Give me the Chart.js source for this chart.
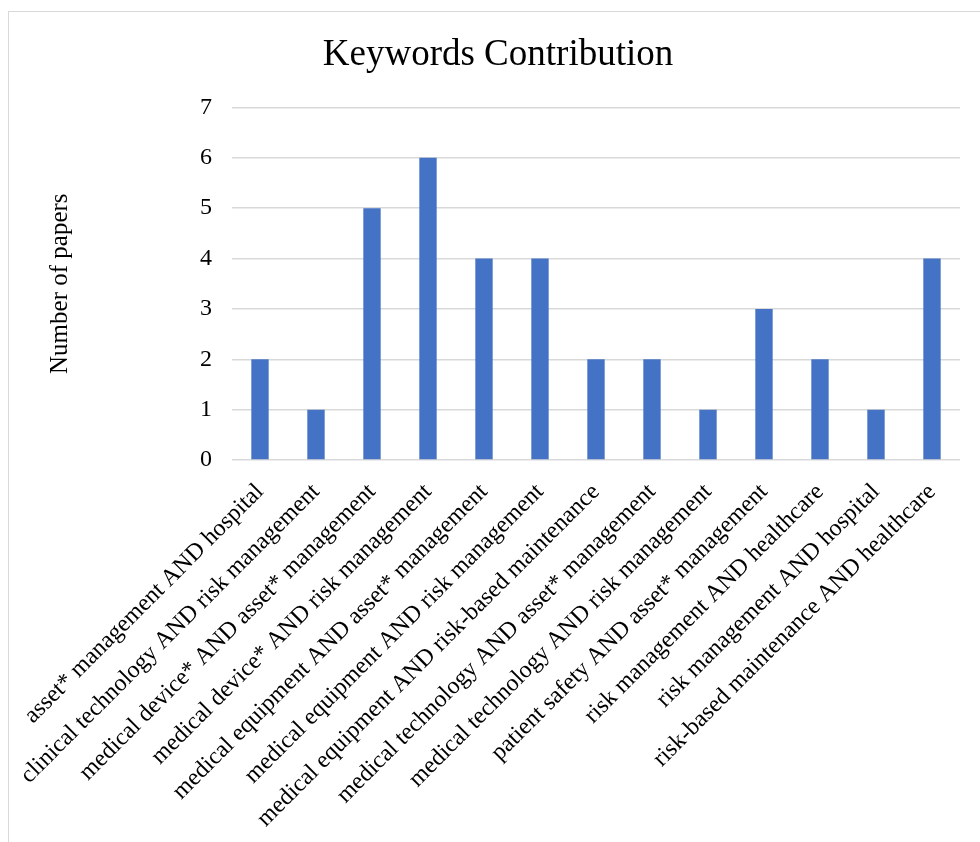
<!DOCTYPE html>
<html>
<head>
<meta charset="utf-8">
<script src="https://cdn.jsdelivr.net/npm/chart.js@4"></script>
<style>
  html, body { margin: 0; padding: 0; background: #fff; overflow: hidden; }
  #frame { position: absolute; left: 8px; top: 11px; width: 1000px; height: 900px; border: 1px solid #d9d9d9; }
  #wrap { position: absolute; left: 0; top: 0; width: 980px; height: 842px; }
</style>
</head>
<body>
<div id="frame"></div>
<div id="wrap"><canvas id="chart"></canvas></div>
<script>
const keywords = [
  'asset* management AND hospital',
  'clinical technology AND risk management',
  'medical device* AND asset* management',
  'medical device* AND risk management',
  'medical equipment AND asset* management',
  'medical equipment AND risk management',
  'medical equipment AND risk-based maintenance',
  'medical technology AND asset* management',
  'medical technology AND risk management',
  'patient safety AND asset* management',
  'risk management AND healthcare',
  'risk management AND hospital',
  'risk-based maintenance AND healthcare'
];
const papers = [2, 1, 5, 6, 4, 4, 2, 2, 1, 3, 2, 1, 4];
const yTicks = [0, 1, 2, 3, 4, 5, 6, 7];

const serif = '"Liberation Serif", "Times New Roman", serif';

new Chart(document.getElementById('chart'), {
  type: 'bar',
  data: {
    labels: keywords,
    datasets: [{
      label: 'Number of papers',
      data: papers,
      backgroundColor: '#4472C4',
      barPercentage: 0.31,
      categoryPercentage: 1
    }]
  },
  options: {
    responsive: true,
    maintainAspectRatio: false,
    animation: false,
    // left padding shifts the title centre to match the original
    layout: { padding: { left: 36, right: 20, top: 0, bottom: 0 } },
    plugins: {
      legend: { display: false },
      tooltip: { enabled: false },
      title: {
        display: true,
        text: 'Keywords Contribution',
        color: '#000',
        font: { family: serif, size: 37, weight: 'normal' },
        padding: { top: 33, bottom: 30 }
      }
    },
    scales: {
      x: {
        grid: { display: false },
        border: { display: false },
        ticks: {
          color: '#000',
          font: { family: serif, size: 24 },
          minRotation: 45,
          maxRotation: 45,
          autoSkip: false,
          padding: 10
        },
        afterFit(axis) { axis.height = 382; }
      },
      y: {
        min: 0,
        max: 7,
        afterBuildTicks(axis) { axis.ticks = yTicks.map(v => ({ value: v })); },
        grid: { color: '#d9d9d9', lineWidth: 1.5, drawTicks: false },
        border: { display: false },
        ticks: {
          color: '#000',
          font: { family: serif, size: 24 },
          padding: 20
        },
        title: {
          display: true,
          text: 'Number of papers',
          color: '#000',
          font: { family: serif, size: 25 },
          padding: { top: 9, bottom: 0 }
        },
        afterFit(axis) { axis.width = 196; }
      }
    }
  }
});
</script>
</body>
</html>
